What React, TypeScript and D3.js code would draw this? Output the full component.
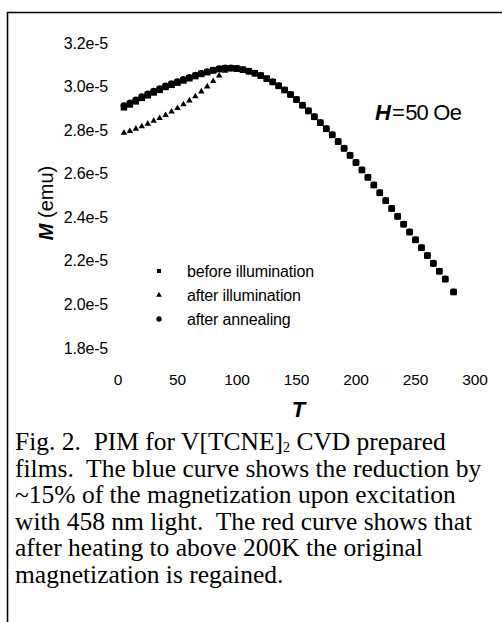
import * as d3 from 'd3';
import React from 'react';

// temperature (K) and magnetization (units of 1e-5 emu)
const temps = [5, 10, 15, 20, 25, 30, 35, 40, 45, 50, 55, 60, 65, 70, 75, 80, 85, 90, 95, 100,
    105, 110, 115, 120, 125, 130, 135, 140, 145, 150, 155, 160, 165, 170, 175, 180, 185, 190, 195, 200,
    205, 210, 215, 220, 225, 230, 235, 240, 245, 250, 255, 260, 265, 270, 275, 282];

const beforeIllum = [2.905, 2.918, 2.932, 2.948, 2.960, 2.973, 2.985, 2.998, 3.008, 3.018,
    3.028, 3.038, 3.048, 3.058, 3.066, 3.074, 3.080, 3.084, 3.084, 3.082,
    3.077, 3.070, 3.061, 3.050, 3.036, 3.021, 3.003, 2.984, 2.963, 2.940,
    2.914, 2.888, 2.861, 2.834, 2.806, 2.778, 2.747, 2.716, 2.684, 2.651,
    2.617, 2.583, 2.548, 2.512, 2.476, 2.440, 2.404, 2.368, 2.332, 2.296,
    2.260, 2.224, 2.188, 2.152, 2.116, 2.057];

const afterIllum = [2.787, 2.795, 2.806, 2.817, 2.829, 2.842, 2.855, 2.869, 2.885, 2.901,
    2.918, 2.936, 2.955, 2.977, 3.000, 3.025, 3.050, 3.072, 3.082, 3.081,
    3.076, 3.069, 3.060, 3.049, 3.035, 3.020, 3.002, 2.983, 2.962, 2.939,
    2.913, 2.887, 2.860, 2.833, 2.805, 2.777, 2.746, 2.715, 2.683, 2.650,
    2.616, 2.582, 2.547, 2.511, 2.475, 2.439, 2.403, 2.367, 2.331, 2.295,
    2.259, 2.223, 2.187, 2.151, 2.115, 2.056];

const afterAnneal = [2.912, 2.925, 2.939, 2.954, 2.966, 2.979, 2.991, 3.003, 3.013, 3.023,
    3.033, 3.042, 3.052, 3.061, 3.069, 3.076, 3.082, 3.086, 3.086, 3.083,
    3.078, 3.071, 3.062, 3.051, 3.037, 3.022, 3.004, 2.985, 2.964, 2.941,
    2.915, 2.889, 2.862, 2.835, 2.807, 2.779, 2.748, 2.717, 2.685, 2.652,
    2.618, 2.584, 2.549, 2.513, 2.477, 2.441, 2.405, 2.369, 2.333, 2.297,
    2.261, 2.225, 2.189, 2.153, 2.117, 2.058];

const xTicks = [0, 50, 100, 150, 200, 250, 300];
const yTicks = [1.8, 2.0, 2.2, 2.4, 2.6, 2.8, 3.0, 3.2];

const legendLabels = ['before illumination', 'after illumination', 'after annealing'];

const captionLines = [
    ['Fig. 2.  PIM for V[TCNE]', '2', ' CVD prepared'],
    ['films.  The blue curve shows the reduction by'],
    ['~15% of the magnetization upon excitation'],
    ['with 458 nm light.  The red curve shows that'],
    ['after heating to above 200K the original'],
    ['magnetization is regained.'],
];

const sans = '"Liberation Sans", Arial, sans-serif';
const serif = '"Liberation Serif", "Times New Roman", serif';

export default function App() {
    const x = d3.scaleLinear().domain([0, 300]).range([118, 475]);
    const y = d3.scaleLinear().domain([1.8, 3.2]).range([348, 43]);

    const sq = d3.symbol().type(d3.symbolSquare).size(42)();
    const tri = d3.symbol().type(d3.symbolTriangle).size(18)();
    const circ = d3.symbol().type(d3.symbolCircle).size(36)();

    const legendSymbols = [
        d3.symbol().type(d3.symbolSquare).size(16)(),
        d3.symbol().type(d3.symbolTriangle).size(14)(),
        d3.symbol().type(d3.symbolCircle).size(22)(),
    ];

    return (
        <svg width={502} height={622} style={{position: 'absolute', left: 0, top: 0, background: 'white'}}>
            {/* frame */}
            <line x1={7} x2={502} y1={12.5} y2={12.5} stroke="black" strokeWidth={1.6} />
            <line x1={7.5} x2={7.5} y1={12} y2={622} stroke="black" strokeWidth={1.6} />

            {/* y tick labels */}
            {yTicks.map((t) => (
                <text key={t} x={108} y={y(t)} dy="0.35em" textAnchor="end"
                    fontFamily={sans} fontSize={16} letterSpacing={-0.2}>
                    {t.toFixed(1)}e-5
                </text>
            ))}

            {/* x tick labels */}
            {xTicks.map((t) => (
                <text key={t} x={x(t)} y={380} dy="0.35em" textAnchor="middle"
                    fontFamily={sans} fontSize={15.5} letterSpacing={-0.2}>
                    {t}
                </text>
            ))}

            {/* axis titles */}
            <text x={x(150) + 2} y={417} textAnchor="middle" fontFamily={sans}
                fontSize={22} fontWeight="bold" fontStyle="italic">T</text>
            <text transform={`translate(53,203) rotate(-90)`} textAnchor="middle"
                fontFamily={sans} fontSize={20}>
                <tspan fontWeight="bold" fontStyle="italic">M</tspan>
                <tspan> (emu)</tspan>
            </text>

            {/* field annotation */}
            <text x={375} y={120} fontFamily={sans} fontSize={22} letterSpacing={-0.8}>
                <tspan fontWeight="bold" fontStyle="italic">H</tspan>
                <tspan dx={2}>=</tspan>
                <tspan dx={1}>50 Oe</tspan>
            </text>

            {/* data */}
            <g fill="black">
                {temps.map((t, i) => (
                    <path key={`c${i}`} d={circ} transform={`translate(${x(t)},${y(afterAnneal[i])})`} />
                ))}
                {temps.map((t, i) => (
                    <path key={`s${i}`} d={sq} transform={`translate(${x(t)},${y(beforeIllum[i])})`} />
                ))}
                {temps.map((t, i) => (
                    <path key={`t${i}`} d={tri} transform={`translate(${x(t)},${y(afterIllum[i])})`} />
                ))}
            </g>

            {/* legend */}
            {legendLabels.map((label, i) => (
                <g key={label} transform={`translate(159,${271 + i * 24})`}>
                    <path d={legendSymbols[i]} fill="black" />
                    <text x={28} y={0} dy="0.35em" fontFamily={sans} fontSize={16} letterSpacing={-0.15}>
                        {label}
                    </text>
                </g>
            ))}

            {/* caption */}
            {captionLines.map((parts, i) => (
                <text key={i} x={15} y={450 + i * 26.6} fontFamily={serif} fontSize={25.5}
                    style={{whiteSpace: 'pre'}}>
                    {parts.length === 3 ? (
                        <>
                            <tspan>{parts[0]}</tspan>
                            <tspan fontSize={14} dy={2}>{parts[1]}</tspan>
                            <tspan dy={-2}>{parts[2]}</tspan>
                        </>
                    ) : parts[0]}
                </text>
            ))}
        </svg>
    );
}
